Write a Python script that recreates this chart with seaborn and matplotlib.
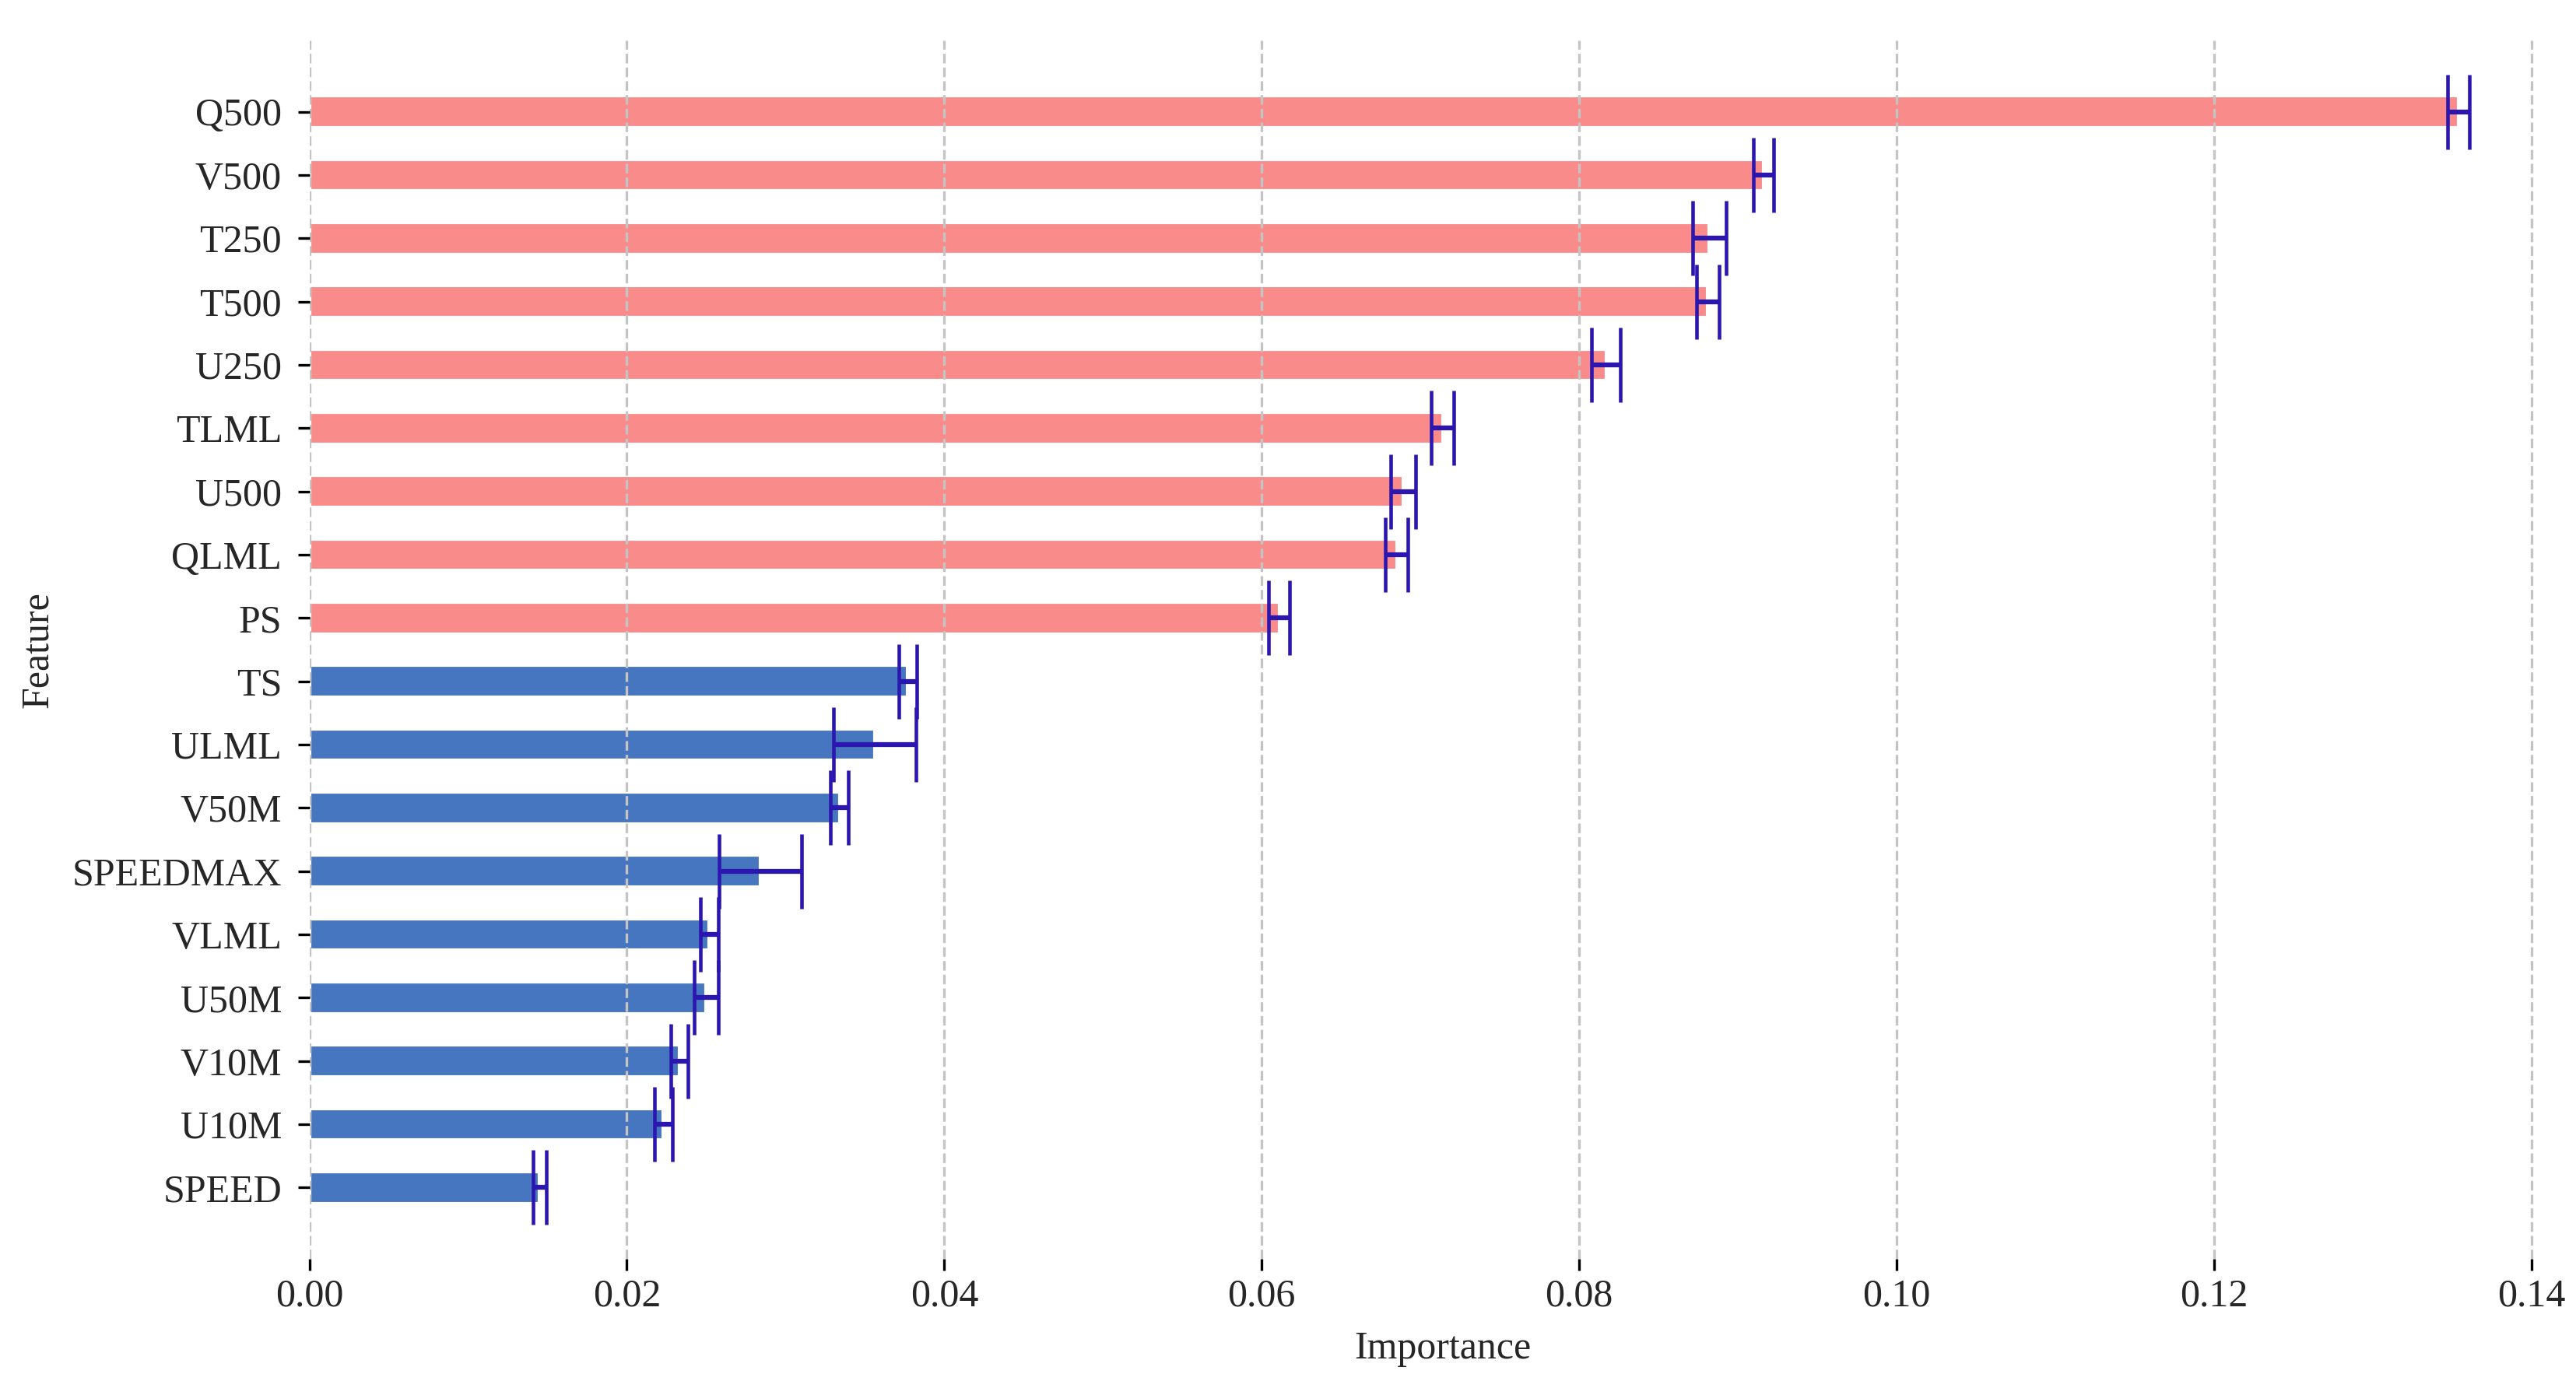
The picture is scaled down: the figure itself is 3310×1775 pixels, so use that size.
import numpy as np
import pandas as pd
import matplotlib
matplotlib.use("Agg")
import matplotlib.pyplot as plt
import seaborn as sns

features = ["Q500", "V500", "T250", "T500", "U250", "TLML", "U500", "QLML", "PS",
            "TS", "ULML", "V50M", "SPEEDMAX", "VLML", "U50M", "V10M", "U10M", "SPEED"]
importance = [0.1354, 0.0916, 0.0882, 0.0881, 0.0817, 0.0714, 0.0689, 0.0685, 0.0611,
              0.0377, 0.0356, 0.0334, 0.0284, 0.0252, 0.0250, 0.0233, 0.0223, 0.0145]
importance_std = [0.0007, 0.00063, 0.00105, 0.0007, 0.0009, 0.0007, 0.00078, 0.0007, 0.00065,
                  0.00055, 0.0026, 0.00055, 0.0026, 0.00055, 0.00075, 0.00054, 0.00055, 0.00042]
groups = ["high"] * 9 + ["low"] * 9
palette = {"high": "#F98B8B", "low": "#4676BF"}

df = pd.DataFrame({"Feature": features, "Importance": importance,
                   "Std": importance_std, "Group": groups})

sns.set_style("white")
plt.rcParams["font.family"] = ["Liberation Serif", "DejaVu Serif"]
plt.rcParams["font.size"] = 12

W, H, DPI = 3310, 1775, 300
fig = plt.figure(figsize=(W / DPI, H / DPI), dpi=DPI)
ax = fig.add_axes([397.5 / W, 1 - 1618 / H, 1 - 397.5 / W, (1618 - 52) / H])

sns.barplot(data=df, y="Feature", x="Importance", hue="Group", palette=palette,
            dodge=False, legend=False, width=0.5, saturation=1.0, ax=ax)

ypos = np.arange(len(features))
ax.errorbar(df["Importance"], ypos, xerr=df["Std"], fmt="none",
            ecolor="#2C16B0", elinewidth=1.5, capsize=11.5, capthick=1.1, zorder=4)

ax.set_ylim(len(features) - 1 + 1.125, -1.125)
ax.set_xlim(0, 0.1428)
ax.set_xticks([0.00, 0.02, 0.04, 0.06, 0.08, 0.10, 0.12, 0.14])
ax.xaxis.set_major_formatter(matplotlib.ticker.FormatStrFormatter("%.2f"))

ax.set_axisbelow(False)
ax.xaxis.grid(True, linestyle="--", color="#C4C4C4", linewidth=0.8)
ax.yaxis.grid(False)
for s in ax.spines.values():
    s.set_visible(False)

ax.tick_params(axis="x", bottom=True, length=3.5, width=0.8, color="black",
               labelsize=12, pad=2.5, direction="out")
ax.tick_params(axis="y", left=True, length=3.5, width=0.8, color="black",
               labelsize=12, pad=5, direction="out")

ax.set_xlabel("Importance", fontsize=12, labelpad=5)
ax.set_ylabel("Feature", fontsize=12, labelpad=5)

fig.savefig("out.png", dpi=DPI)
